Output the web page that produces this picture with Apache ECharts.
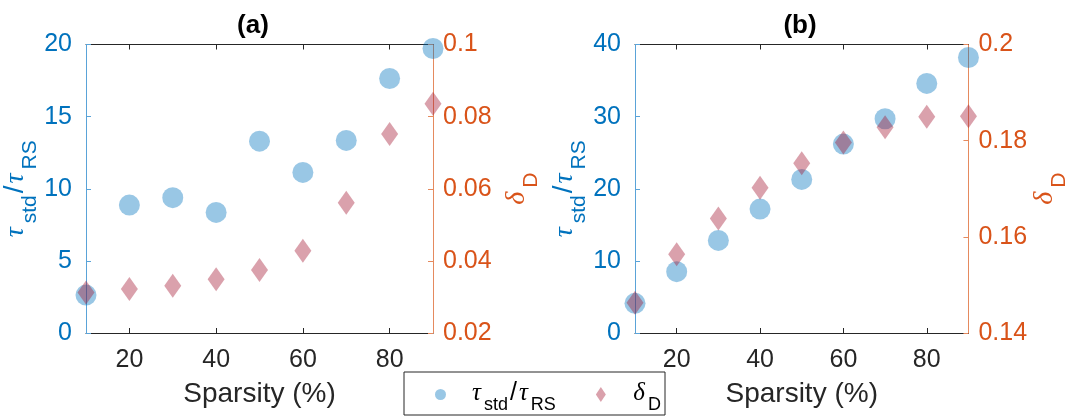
<!DOCTYPE html>
<html>
<head>
<meta charset="utf-8">
<script src="https://cdn.jsdelivr.net/npm/echarts@6/dist/echarts.min.js"></script>
<style>html,body{margin:0;padding:0;background:#fff;}#c{width:1071px;height:417px;}</style>
</head>
<body>
<div id="c"></div>
<script>
// ---- data ----
const sparsity = [10, 20, 30, 40, 50, 60, 70, 80, 90];
const tauA   = [2.63, 8.87, 9.38, 8.36, 13.30, 11.13, 13.35, 17.64, 19.72];
const deltaA = [0.0312, 0.0322, 0.0331, 0.0349, 0.0375, 0.0428, 0.0561, 0.0752, 0.0836];
const tauB   = [4.11, 8.50, 12.84, 17.18, 21.29, 26.19, 29.70, 34.60, 38.20];
const deltaB = [0.1463, 0.1564, 0.1638, 0.1702, 0.1753, 0.1796, 0.1828, 0.1850, 0.1851];
const xTickValues = [20, 40, 60, 80];
const panelTitles = ['(a)', '(b)'];

const SANS = 'Liberation Sans, Arial, Helvetica, sans-serif';
const GREEK = 'Liberation Serif, DejaVu Serif, serif';
const BLUE = '#0072BD', ORANGE = '#D95319', DARK = '#262626';
const BLUE_LINE = '#5aa3d8', ORANGE_LINE = '#e58a5e';

function pair(xs, ys) { return xs.map((x, i) => [x, ys[i]]); }

const richName = (color, g, s) => ({
  g: {fontFamily: GREEK, fontStyle: 'italic', fontSize: g, lineHeight: g + 2, color: color, verticalAlign: 'top', padding: [0, 4, 0, 0]},
  n: {fontFamily: SANS, fontSize: g, lineHeight: g + 2, color: color, verticalAlign: 'top', padding: [0, 2, 0, 2]},
  s: {fontFamily: SANS, fontSize: s, lineHeight: s + 2, color: color, verticalAlign: 'top', padding: [18, 0, 0, 0]}
});

function xAxes(gridIndex) {
  const common = {
    type: 'value', gridIndex: gridIndex, min: 10, max: 90, interval: 10,
    splitLine: {show: false},
    axisLine: {show: true, onZero: false, lineStyle: {color: DARK, width: 1}},
    axisTick: {show: true, inside: true, length: 5, customValues: xTickValues, lineStyle: {color: DARK}}
  };
  return [
    Object.assign({}, common, {
      position: 'bottom',
      axisLabel: {show: true, customValues: xTickValues, margin: 15, fontSize: 25, fontFamily: SANS, color: DARK},
      name: 'Sparsity (%)', nameLocation: 'middle', nameGap: 47,
      nameTextStyle: {fontSize: 28, fontFamily: SANS, color: DARK}
    }),
    Object.assign({}, common, {position: 'top', axisLabel: {show: false}})
  ];
}

function yLeft(gridIndex, max, interval, gap) {
  return {
    type: 'value', gridIndex: gridIndex, position: 'left', min: 0, max: max, interval: interval,
    splitLine: {show: false},
    axisLine: {show: true, lineStyle: {color: BLUE_LINE, width: 1}},
    axisTick: {show: true, inside: true, length: 5, lineStyle: {color: BLUE_LINE}},
    axisLabel: {margin: 14, fontSize: 25, fontFamily: SANS, color: BLUE},
    name: '{g|τ}{s|std}{n|/}{g|τ}{s|RS}', nameLocation: 'middle', nameRotate: 90, nameGap: gap,
    nameTextStyle: {rich: richName(BLUE, 28, 21)}
  };
}

function yRight(gridIndex, min, max, gap) {
  return {
    type: 'value', gridIndex: gridIndex, position: 'right', min: min, max: max, interval: 0.02,
    splitLine: {show: false},
    axisLine: {show: true, lineStyle: {color: ORANGE_LINE, width: 1}},
    axisTick: {show: true, inside: true, length: 5, lineStyle: {color: ORANGE_LINE}},
    axisLabel: {margin: 10, fontSize: 25, fontFamily: SANS, color: ORANGE,
      formatter: v => String(+v.toFixed(2))},
    name: '{g|δ}{s|D}', nameLocation: 'middle', nameRotate: 90, nameGap: gap,
    nameTextStyle: {rich: richName(ORANGE, 28, 21)}
  };
}

const TAU_COLOR = 'rgba(0,114,189,0.5)';
const DELTA_COLOR = 'rgba(162,20,47,0.5)';
const DIAMOND = 'path://M5,0L10,7.5L5,15L0,7.5Z';

const LG = 25, LS = 18;
const option = {
  backgroundColor: '#fff',
  animation: false,
  grid: [
    {left: 86, top: 44.5, width: 347, height: 288.5, containLabel: false},
    {left: 635, top: 44.5, width: 343, height: 288.5, containLabel: false}
  ],
  xAxis: [].concat(xAxes(0), xAxes(1)),
  yAxis: [
    yLeft(0, 20, 5, 45),
    yRight(0, 0.02, 0.1, 70),
    yLeft(1, 40, 10, 53),
    yRight(1, 0.14, 0.2, 52)
  ],
  legend: {
    left: 435, top: 381, padding: 0, itemGap: 40,
    itemWidth: 11, itemHeight: 15, symbolKeepAspect: true,
    data: [{name: 'tau', icon: 'circle', itemStyle: {color: TAU_COLOR}},
           {name: 'delta', icon: DIAMOND, itemStyle: {color: DELTA_COLOR}}],
    formatter: function (name) {
      return name === 'tau' ? '{g0|τ}{s|std}{n|/}{g|τ}{s|RS}' : '{g1|δ}{s|D}';
    },
    textStyle: {
      rich: {
        g0: {fontFamily: GREEK, fontStyle: 'italic', fontSize: LG, lineHeight: LG + 2, color: '#000', verticalAlign: 'top', padding: [0, 3, 0, 21]},
        g1: {fontFamily: GREEK, fontStyle: 'italic', fontSize: LG, lineHeight: LG + 2, color: '#000', verticalAlign: 'top', padding: [0, 3, 0, 22]},
        g: {fontFamily: GREEK, fontStyle: 'italic', fontSize: LG, lineHeight: LG + 2, color: '#000', verticalAlign: 'top', padding: [0, 3, 0, 0]},
        n: {fontFamily: SANS, fontSize: LG, lineHeight: LG + 2, color: '#000', verticalAlign: 'top', padding: [0, 2, 0, 2]},
        s: {fontFamily: SANS, fontSize: LS, lineHeight: LS + 1, color: '#000', verticalAlign: 'top', padding: [15, 0, 0, 0]}
      }
    },
    z: 10
  },
  graphic: [
    {type: 'rect', z: 5, shape: {x: 404, y: 372, width: 261, height: 43},
     style: {fill: '#fff', stroke: DARK, lineWidth: 1}},
    {type: 'text', z: 5, style: {text: panelTitles[0], x: 253, y: 26, textAlign: 'center', textVerticalAlign: 'middle',
      fontSize: 26, fontWeight: 'bold', fontFamily: SANS, fill: '#000'}},
    {type: 'text', z: 5, style: {text: panelTitles[1], x: 800, y: 26, textAlign: 'center', textVerticalAlign: 'middle',
      fontSize: 26, fontWeight: 'bold', fontFamily: SANS, fill: '#000'}}
  ],
  series: [
    {name: 'tau', type: 'scatter', xAxisIndex: 0, yAxisIndex: 0, data: pair(sparsity, tauA),
     symbol: 'circle', symbolSize: 21, itemStyle: {color: TAU_COLOR}, z: 2},
    {name: 'delta', type: 'scatter', xAxisIndex: 0, yAxisIndex: 1, data: pair(sparsity, deltaA),
     symbol: 'diamond', symbolSize: [17, 24], itemStyle: {color: DELTA_COLOR}, z: 3},
    {name: 'tau', type: 'scatter', xAxisIndex: 2, yAxisIndex: 2, data: pair(sparsity, tauB),
     symbol: 'circle', symbolSize: 21, itemStyle: {color: TAU_COLOR}, z: 2},
    {name: 'delta', type: 'scatter', xAxisIndex: 2, yAxisIndex: 3, data: pair(sparsity, deltaB),
     symbol: 'diamond', symbolSize: [17, 24], itemStyle: {color: DELTA_COLOR}, z: 3}
  ]
};

const chart = echarts.init(document.getElementById('c'), null, {renderer: 'canvas'});
chart.setOption(option);
</script>
</body>
</html>
